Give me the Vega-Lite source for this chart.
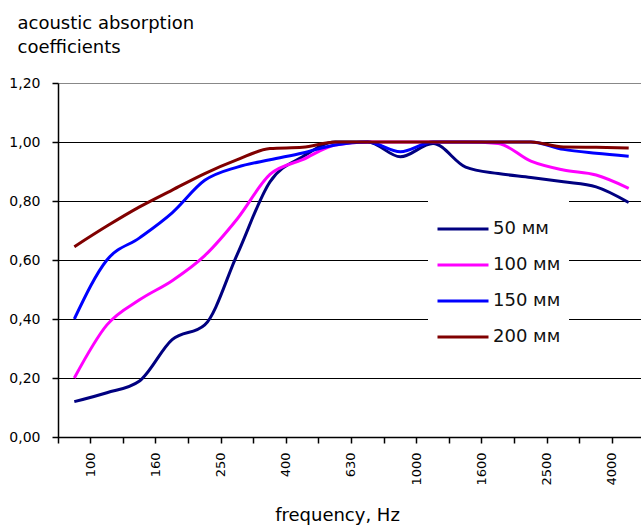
{
  "$schema": "https://vega.github.io/schema/vega-lite/v6.json",
  "width": 587,
  "height": 354,
  "autosize": {"type": "none"},
  "padding": {"left": 58, "top": 83, "right": -4, "bottom": 89},
  "background": "white",
  "config": {"view": {"stroke": null}, "font": "DejaVu Sans"},
  "data": {"values": [
    {"freq": "100", "series": "50 мм", "alpha": 0.12},
    {"freq": "125", "series": "50 мм", "alpha": 0.15},
    {"freq": "160", "series": "50 мм", "alpha": 0.19},
    {"freq": "200", "series": "50 мм", "alpha": 0.33},
    {"freq": "250", "series": "50 мм", "alpha": 0.38},
    {"freq": "315", "series": "50 мм", "alpha": 0.62},
    {"freq": "400", "series": "50 мм", "alpha": 0.865},
    {"freq": "500", "series": "50 мм", "alpha": 0.95},
    {"freq": "630", "series": "50 мм", "alpha": 1.0},
    {"freq": "800", "series": "50 мм", "alpha": 1.0},
    {"freq": "1000", "series": "50 мм", "alpha": 0.95},
    {"freq": "1250", "series": "50 мм", "alpha": 0.995},
    {"freq": "1600", "series": "50 мм", "alpha": 0.915},
    {"freq": "2000", "series": "50 мм", "alpha": 0.893},
    {"freq": "2500", "series": "50 мм", "alpha": 0.88},
    {"freq": "3150", "series": "50 мм", "alpha": 0.865},
    {"freq": "4000", "series": "50 мм", "alpha": 0.848},
    {"freq": "5000", "series": "50 мм", "alpha": 0.795},
    {"freq": "100", "series": "100 мм", "alpha": 0.2},
    {"freq": "125", "series": "100 мм", "alpha": 0.38},
    {"freq": "160", "series": "100 мм", "alpha": 0.465},
    {"freq": "200", "series": "100 мм", "alpha": 0.53},
    {"freq": "250", "series": "100 мм", "alpha": 0.615},
    {"freq": "315", "series": "100 мм", "alpha": 0.74},
    {"freq": "400", "series": "100 мм", "alpha": 0.89},
    {"freq": "500", "series": "100 мм", "alpha": 0.94},
    {"freq": "630", "series": "100 мм", "alpha": 0.99},
    {"freq": "800", "series": "100 мм", "alpha": 1.0},
    {"freq": "1000", "series": "100 мм", "alpha": 1.0},
    {"freq": "1250", "series": "100 мм", "alpha": 1.0},
    {"freq": "1600", "series": "100 мм", "alpha": 1.0},
    {"freq": "2000", "series": "100 мм", "alpha": 0.995},
    {"freq": "2500", "series": "100 мм", "alpha": 0.935},
    {"freq": "3150", "series": "100 мм", "alpha": 0.905},
    {"freq": "4000", "series": "100 мм", "alpha": 0.888},
    {"freq": "5000", "series": "100 мм", "alpha": 0.843},
    {"freq": "100", "series": "150 мм", "alpha": 0.4},
    {"freq": "125", "series": "150 мм", "alpha": 0.6},
    {"freq": "160", "series": "150 мм", "alpha": 0.675},
    {"freq": "200", "series": "150 мм", "alpha": 0.76},
    {"freq": "250", "series": "150 мм", "alpha": 0.87},
    {"freq": "315", "series": "150 мм", "alpha": 0.915},
    {"freq": "400", "series": "150 мм", "alpha": 0.94},
    {"freq": "500", "series": "150 мм", "alpha": 0.963},
    {"freq": "630", "series": "150 мм", "alpha": 0.99},
    {"freq": "800", "series": "150 мм", "alpha": 1.0},
    {"freq": "1000", "series": "150 мм", "alpha": 0.967},
    {"freq": "1250", "series": "150 мм", "alpha": 1.0},
    {"freq": "1600", "series": "150 мм", "alpha": 1.0},
    {"freq": "2000", "series": "150 мм", "alpha": 1.0},
    {"freq": "2500", "series": "150 мм", "alpha": 1.0},
    {"freq": "3150", "series": "150 мм", "alpha": 0.975},
    {"freq": "4000", "series": "150 мм", "alpha": 0.962},
    {"freq": "5000", "series": "150 мм", "alpha": 0.952},
    {"freq": "100", "series": "200 мм", "alpha": 0.645},
    {"freq": "125", "series": "200 мм", "alpha": 0.715},
    {"freq": "160", "series": "200 мм", "alpha": 0.78},
    {"freq": "200", "series": "200 мм", "alpha": 0.837},
    {"freq": "250", "series": "200 мм", "alpha": 0.893},
    {"freq": "315", "series": "200 мм", "alpha": 0.94},
    {"freq": "400", "series": "200 мм", "alpha": 0.978},
    {"freq": "500", "series": "200 мм", "alpha": 0.982},
    {"freq": "630", "series": "200 мм", "alpha": 1.0},
    {"freq": "800", "series": "200 мм", "alpha": 1.0},
    {"freq": "1000", "series": "200 мм", "alpha": 1.0},
    {"freq": "1250", "series": "200 мм", "alpha": 1.0},
    {"freq": "1600", "series": "200 мм", "alpha": 1.0},
    {"freq": "2000", "series": "200 мм", "alpha": 1.0},
    {"freq": "2500", "series": "200 мм", "alpha": 1.0},
    {"freq": "3150", "series": "200 мм", "alpha": 0.983},
    {"freq": "4000", "series": "200 мм", "alpha": 0.982},
    {"freq": "5000", "series": "200 мм", "alpha": 0.98}
  ]},
  "mark": {"type": "line", "strokeWidth": 3, "interpolate": "monotone"},
  "encoding": {
    "x": {
      "field": "freq",
      "type": "ordinal",
      "scale": {
        "type": "band",
        "domain": ["100","125","160","200","250","315","400","500","630","800","1000","1250","1600","2000","2500","3150","4000","5000"],
        "paddingInner": 0,
        "paddingOuter": 0
      },
      "axis": {
        "title": "frequency, Hz",
        "titleFont": "DejaVu Sans",
        "titleFontSize": 18,
        "titleFontWeight": "normal",
        "titleColor": "black",
        "titleX": 279,
        "titleY": 83,
        "titleAlign": "center",
        "titleBaseline": "alphabetic",
        "bandPosition": 0,
        "labelOffset": 16.3,
        "labelAngle": 270,
        "labelAlign": "right",
        "labelBaseline": "middle",
        "labelPadding": 9,
        "labelFontSize": 13,
        "labelColor": "black",
        "labelExpr": "indexof(['100','160','250','400','630','1000','1600','2500','4000'], datum.value) >= 0 ? datum.value : ''",
        "tickSize": 6,
        "tickColor": "black",
        "tickWidth": 1.5,
        "domainColor": "black",
        "domainWidth": 1.5,
        "grid": false
      }
    },
    "y": {
      "field": "alpha",
      "type": "quantitative",
      "scale": {"domain": [0, 1.2], "nice": false, "zero": true},
      "axis": {
        "title": ["acoustic absorption", "coefficients"],
        "titleFont": "DejaVu Sans",
        "titleFontSize": 18,
        "titleFontWeight": "normal",
        "titleColor": "black",
        "titleAngle": 0,
        "titleAlign": "left",
        "titleBaseline": "alphabetic",
        "titleX": -41,
        "titleY": -55,
        "titleLineHeight": 24,
        "values": [0, 0.2, 0.4, 0.6, 0.8, 1.0, 1.2],
        "labelExpr": "replace(format(datum.value, '.2f'), '.', ',')",
        "labelFontSize": 14,
        "labelColor": "black",
        "labelPadding": 12,
        "tickSize": 6,
        "tickColor": "black",
        "tickWidth": 1.5,
        "domainColor": "black",
        "domainWidth": 1.5,
        "grid": true,
        "gridColor": {"condition": {"test": "datum.value === 1.2", "value": "#888888"}, "value": "black"},
        "gridWidth": 1.2
      }
    },
    "color": {
      "field": "series",
      "type": "nominal",
      "scale": {
        "domain": ["50 мм", "100 мм", "150 мм", "200 мм"],
        "range": ["#000080", "#ff00ff", "#0000ff", "#800000"]
      },
      "legend": {
        "title": null,
        "orient": "none",
        "legendX": 370,
        "legendY": 111,
        "fillColor": "white",
        "padding": 8,
        "symbolType": "stroke",
        "symbolSize": 2601,
        "symbolStrokeWidth": 3,
        "labelFont": "DejaVu Sans",
        "labelFontSize": 18,
        "labelColor": "#111111",
        "labelOffset": 3,
        "rowPadding": -0.5
      }
    }
  }
}
